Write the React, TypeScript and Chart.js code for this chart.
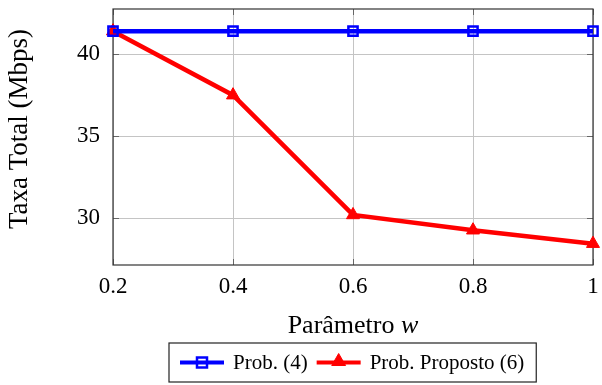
import React, { useEffect, useRef } from "react";
import { Chart, registerables } from "chart.js";

Chart.register(...registerables);

const xValues = [0.2, 0.4, 0.6, 0.8, 1.0];
const prob4 = [41.4, 41.4, 41.4, 41.4, 41.4];
const probProposto = [41.4, 37.5, 30.2, 29.27, 28.45];
const xTicks = [0.2, 0.4, 0.6, 0.8, 1];
const xTickLabels = ["0.2", "0.4", "0.6", "0.8", "1"];
const yTicks = [30, 35, 40];
const yTickLabels = ["30", "35", "40"];
const seriesLabels = ["Prob. (4)", "Prob. Proposto (6)"];
const xTitle = "Parâmetro ";
const xTitleVar = "w";
const yTitle = "Taxa Total (Mbps)";

const BLUE = "#0000ff";
const RED = "#ff0000";
const SERIF = "'Liberation Serif', 'Times New Roman', serif";

function drawSquare(ctx: CanvasRenderingContext2D, x: number, y: number, s: number, color: string, lw: number) {
  ctx.save();
  ctx.strokeStyle = color;
  ctx.lineWidth = lw;
  ctx.strokeRect(x - s / 2, y - s / 2, s, s);
  ctx.restore();
}

function drawTriangle(ctx: CanvasRenderingContext2D, x: number, y: number, r: number, color: string) {
  ctx.save();
  ctx.fillStyle = color;
  ctx.strokeStyle = color;
  ctx.lineWidth = 1;
  ctx.beginPath();
  for (let i = 0; i < 3; i++) {
    const a = (i * 2 * Math.PI) / 3;
    const px = x + Math.sin(a) * r;
    const py = y - Math.cos(a) * r;
    if (i === 0) ctx.moveTo(px, py);
    else ctx.lineTo(px, py);
  }
  ctx.closePath();
  ctx.fill();
  ctx.stroke();
  ctx.restore();
}

const framePlugin = {
  id: "frame",
  beforeDatasetsDraw(chart: any) {
    const { ctx, chartArea: a, scales } = chart;
    ctx.save();
    ctx.strokeStyle = "#666";
    ctx.lineWidth = 1;
    const tl = 6;
    const seg = (x1: number, y1: number, x2: number, y2: number) => {
      ctx.beginPath();
      ctx.moveTo(x1, y1);
      ctx.lineTo(x2, y2);
      ctx.stroke();
    };
    scales.x.ticks.forEach((t: any) => {
      const px = Math.round(scales.x.getPixelForValue(t.value)) + 0.5;
      seg(px, a.bottom, px, a.bottom - tl);
      seg(px, a.top, px, a.top + tl);
    });
    scales.y.ticks.forEach((t: any) => {
      const py = Math.round(scales.y.getPixelForValue(t.value)) + 0.5;
      seg(a.left, py, a.left + tl, py);
      seg(a.right, py, a.right - tl, py);
    });
    ctx.strokeStyle = "#333";
    ctx.lineWidth = 1.2;
    ctx.strokeRect(a.left, a.top, a.right - a.left, a.bottom - a.top);
    ctx.restore();
  },
  afterDraw(chart: any) {
    const { ctx, chartArea: a } = chart;
    const cx = (a.left + a.right) / 2;
    ctx.save();
    // y title
    ctx.save();
    ctx.translate(20, 129);
    ctx.rotate(-Math.PI / 2);
    ctx.fillStyle = "#000";
    ctx.font = `27px ${SERIF}`;
    ctx.textAlign = "center";
    ctx.textBaseline = "middle";
    ctx.fillText(yTitle, 0, 0);
    ctx.restore();
    // x title
    ctx.fillStyle = "#000";
    ctx.textBaseline = "alphabetic";
    ctx.font = `26px ${SERIF}`;
    const w1 = ctx.measureText(xTitle).width;
    ctx.font = `italic 26px ${SERIF}`;
    const w2 = ctx.measureText(xTitleVar).width;
    const sx = cx - (w1 + w2) / 2;
    ctx.font = `26px ${SERIF}`;
    ctx.fillText(xTitle, sx, 333);
    ctx.font = `italic 26px ${SERIF}`;
    ctx.fillText(xTitleVar, sx + w1, 333);

    // legend
    ctx.font = `21px ${SERIF}`;
    const tw = seriesLabels.map((s) => ctx.measureText(s).width);
    const padL = 11, lineLen = 44, gap = 9, between = 9, padR = 12;
    const boxW = padL + lineLen + gap + tw[0] + between + lineLen + gap + tw[1] + padR;
    const boxTop = 343, boxH = 39;
    const bx = Math.round(cx - boxW / 2);
    ctx.fillStyle = "#fff";
    ctx.fillRect(bx, boxTop, boxW, boxH);
    ctx.strokeStyle = "#222";
    ctx.lineWidth = 1.2;
    ctx.strokeRect(bx, boxTop, boxW, boxH);
    const my = boxTop + boxH / 2;
    let x = bx + padL;
    const colors = [BLUE, RED];
    for (let i = 0; i < 2; i++) {
      ctx.strokeStyle = colors[i];
      ctx.lineWidth = 4;
      ctx.beginPath();
      ctx.moveTo(x, my);
      ctx.lineTo(x + lineLen, my);
      ctx.stroke();
      if (i === 0) drawSquare(ctx, x + lineLen / 2, my, 10, BLUE, 2.5);
      else drawTriangle(ctx, x + lineLen / 2, my - 1, 8, RED);
      x += lineLen + gap;
      ctx.fillStyle = "#000";
      ctx.textBaseline = "middle";
      ctx.fillText(seriesLabels[i], x, my + 1);
      x += tw[i] + between;
    }
    ctx.restore();
  },
};

export default function App() {
  const ref = useRef<HTMLCanvasElement | null>(null);
  useEffect(() => {
    document.body.style.margin = "0";
    const canvas = ref.current!;
    const chart = new Chart(canvas, {
      type: "line",
      data: {
        datasets: [
          {
            label: seriesLabels[0],
            data: xValues.map((x, i) => ({ x, y: prob4[i] })),
            borderColor: BLUE,
            borderWidth: 4.5,
            pointStyle: "rect",
            pointRadius: 6.5,
            pointBorderWidth: 2.5,
            pointBackgroundColor: "rgba(0,0,0,0)",
            pointBorderColor: BLUE,
            tension: 0,
            clip: false as any,
          },
          {
            label: seriesLabels[1],
            data: xValues.map((x, i) => ({ x, y: probProposto[i] })),
            borderColor: RED,
            borderWidth: 4.5,
            pointStyle: "triangle",
            pointRadius: 7.5,
            pointBorderWidth: 1,
            pointBackgroundColor: RED,
            pointBorderColor: RED,
            tension: 0,
            clip: false as any,
          },
        ],
      },
      options: {
        animation: false,
        responsive: false,
        devicePixelRatio: 1,
        layout: { padding: { top: 6, right: 5, left: 0, bottom: 0 } },
        plugins: { legend: { display: false }, tooltip: { enabled: false } },
        scales: {
          x: {
            type: "linear",
            min: 0.2,
            max: 1,
            afterBuildTicks: (s: any) => {
              s.ticks = xTicks.map((v) => ({ value: v }));
            },
            afterFit: (s: any) => {
              s.height = 120;
              s.paddingLeft = 0;
              s.paddingRight = 0;
            },
            ticks: {
              autoSkip: false,
              maxRotation: 0,
              padding: 8,
              color: "#000",
              font: { family: SERIF, size: 23 },
              callback: (v: any) => {
                const i = xTicks.findIndex((t) => Math.abs(t - v) < 1e-9);
                return i >= 0 ? xTickLabels[i] : "";
              },
            },
            grid: { color: "#c4c4c4", lineWidth: 1, drawTicks: false },
            border: { display: false },
          },
          y: {
            type: "linear",
            min: 27.15,
            max: 42.75,
            afterBuildTicks: (s: any) => {
              s.ticks = yTicks.map((v) => ({ value: v }));
            },
            afterFit: (s: any) => {
              s.width = 113;
              s.paddingTop = 0;
              s.paddingBottom = 0;
            },
            ticks: {
              autoSkip: false,
              padding: 13,
              color: "#000",
              font: { family: SERIF, size: 23 },
              callback: (v: any) => {
                const i = yTicks.findIndex((t) => Math.abs(t - v) < 1e-9);
                return i >= 0 ? yTickLabels[i] : "";
              },
            },
            grid: { color: "#c4c4c4", lineWidth: 1, drawTicks: false },
            border: { display: false },
          },
        },
      },
      plugins: [framePlugin],
    });
    return () => chart.destroy();
  }, []);
  return (
    <div style={{ width: 602, height: 385 }}>
      <canvas ref={ref} width={602} height={385} style={{ display: "block" }} />
    </div>
  );
}
